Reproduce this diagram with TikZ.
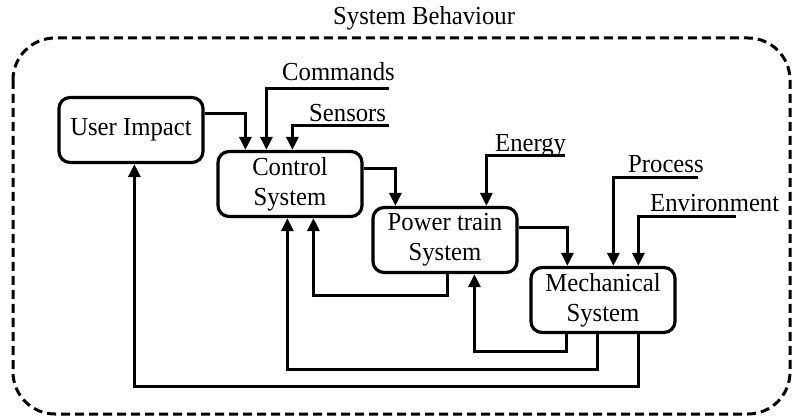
\documentclass[tikz,border=0pt]{standalone}
\usepackage{fontspec}
\setmainfont{Liberation Serif}[FakeStretch=0.95]
\usetikzlibrary{arrows.meta}

\tikzset{
 block/.style={draw, line width=3.2pt, rounded corners=11pt, minimum width=144pt, minimum height=65pt,
   inner sep=0pt, align=center, font=\fontsize{26}{30}\selectfont},
 flow/.style={line width=3pt, -{Triangle[length=13pt,width=12pt]}},
 lbl/.style={inner sep=0pt, anchor=base west, font=\fontsize{26}{30}\selectfont},
 bound/.style={line width=3pt, dash pattern=on 9pt off 5pt, rounded corners=42pt}
}

\begin{document}
\begin{tikzpicture}[x=1pt,y=-1pt]
 \useasboundingbox (0,0) rectangle (797,419);
 \draw[bound] (13,38) rectangle (790,414);
 \node[lbl] (title) at (333,25) {System Behaviour};

 \node[block] (user)  at (131,130) {User Impact};
 \node[block] (ctrl)  at (290,184) {Control\\System};
 \node[block] (power) at (445,240) {Power train\\System};
 \node[block] (mech)  at (603,300) {Mechanical\\System};

 % external inputs
 \node[lbl] (cmdlbl) at (282,81)  {Commands};
 \node[lbl] (senlbl) at (309,122) {Sensors};
 \node[lbl] (enelbl) at (495,152) {Energy};
 \node[lbl] (prolbl) at (628,173) {Process};
 \node[lbl] (envlbl) at (650,212) {Environment};
 \coordinate (cmd) at (389,89);
 \coordinate (sen) at (389,126);
 \coordinate (ene) at (565,156);
 \coordinate (pro) at (698,178);
 \coordinate (env) at (736,217);

 \draw[flow] (cmd) -| ([xshift=50pt]ctrl.north west);
 \draw[flow] (sen) -| ([xshift=76pt]ctrl.north west);
 \draw[flow] (ene) -| ([xshift=115pt]power.north west);
 \draw[flow] (pro) -| ([xshift=84pt]mech.north west);
 \draw[flow] (env) -| ([xshift=109pt]mech.north west);

 % forward chain
 \draw[flow] ([yshift=16pt]user.east) -| ([xshift=29pt]ctrl.north west);
 \draw[flow] ([yshift=15pt]ctrl.east) -| ([xshift=24pt]power.north west);
 \draw[flow] ([yshift=12pt]power.east) -| ([xshift=38pt]mech.north west);

 % feedback
 \draw[flow] ([xshift=76pt]power.south west) -- ++(0,21.5) -| ([xshift=97pt]ctrl.south west);
 \draw[flow] ([xshift=37pt]mech.south west) -- ++(0,17.5) -| ([xshift=103pt]power.south west);
 \draw[flow] ([xshift=68pt]mech.south west) -- ++(0,35.5) -| ([xshift=71pt]ctrl.south west);
 \draw[flow] ([xshift=109pt]mech.south west) -- ++(0,52.5) -| ([xshift=77pt]user.south west);
\end{tikzpicture}
\end{document}
